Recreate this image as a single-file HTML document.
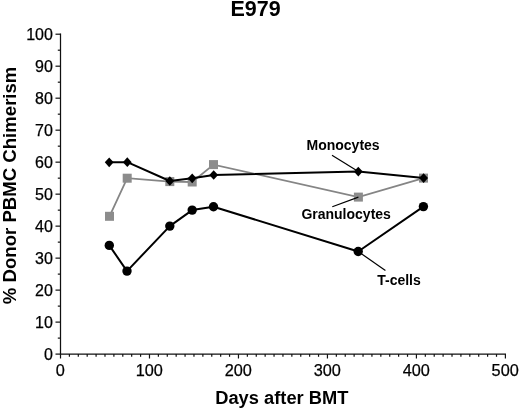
<!DOCTYPE html>
<html><head><meta charset="utf-8"><style>
html,body{margin:0;padding:0;background:#fff;}
body{width:520px;height:410px;overflow:hidden;}
svg{display:block;will-change:transform;}
text{font-family:"Liberation Sans",sans-serif;fill:#000;}
.yl{font-size:16px;fill:#000;stroke:#000;stroke-width:0.25px;}
.xl{font-size:16.3px;fill:#000;stroke:#000;stroke-width:0.25px;}
.lb{font-size:14px;font-weight:bold;}
.tt{font-size:21.5px;font-weight:bold;}
.ax{font-size:18.3px;font-weight:bold;}
.ay{font-size:18.6px;font-weight:bold;}
</style></head><body>
<svg width="520" height="410" viewBox="0 0 520 410">
<path d="M60.50 33.60 V354.10 H506.00" fill="none" stroke="#111" stroke-width="1.25"/>
<line x1="55.50" y1="354.10" x2="60.50" y2="354.10" stroke="#111" stroke-width="1.2"/>
<line x1="57.80" y1="338.11" x2="60.50" y2="338.11" stroke="#111" stroke-width="1.2"/>
<line x1="55.50" y1="322.11" x2="60.50" y2="322.11" stroke="#111" stroke-width="1.2"/>
<line x1="57.80" y1="306.12" x2="60.50" y2="306.12" stroke="#111" stroke-width="1.2"/>
<line x1="55.50" y1="290.12" x2="60.50" y2="290.12" stroke="#111" stroke-width="1.2"/>
<line x1="57.80" y1="274.12" x2="60.50" y2="274.12" stroke="#111" stroke-width="1.2"/>
<line x1="55.50" y1="258.13" x2="60.50" y2="258.13" stroke="#111" stroke-width="1.2"/>
<line x1="57.80" y1="242.14" x2="60.50" y2="242.14" stroke="#111" stroke-width="1.2"/>
<line x1="55.50" y1="226.14" x2="60.50" y2="226.14" stroke="#111" stroke-width="1.2"/>
<line x1="57.80" y1="210.15" x2="60.50" y2="210.15" stroke="#111" stroke-width="1.2"/>
<line x1="55.50" y1="194.15" x2="60.50" y2="194.15" stroke="#111" stroke-width="1.2"/>
<line x1="57.80" y1="178.16" x2="60.50" y2="178.16" stroke="#111" stroke-width="1.2"/>
<line x1="55.50" y1="162.16" x2="60.50" y2="162.16" stroke="#111" stroke-width="1.2"/>
<line x1="57.80" y1="146.17" x2="60.50" y2="146.17" stroke="#111" stroke-width="1.2"/>
<line x1="55.50" y1="130.17" x2="60.50" y2="130.17" stroke="#111" stroke-width="1.2"/>
<line x1="57.80" y1="114.18" x2="60.50" y2="114.18" stroke="#111" stroke-width="1.2"/>
<line x1="55.50" y1="98.18" x2="60.50" y2="98.18" stroke="#111" stroke-width="1.2"/>
<line x1="57.80" y1="82.19" x2="60.50" y2="82.19" stroke="#111" stroke-width="1.2"/>
<line x1="55.50" y1="66.19" x2="60.50" y2="66.19" stroke="#111" stroke-width="1.2"/>
<line x1="57.80" y1="50.20" x2="60.50" y2="50.20" stroke="#111" stroke-width="1.2"/>
<line x1="55.50" y1="34.20" x2="60.50" y2="34.20" stroke="#111" stroke-width="1.2"/>
<line x1="60.50" y1="354.10" x2="60.50" y2="358.50" stroke="#111" stroke-width="1.2"/>
<line x1="69.40" y1="354.10" x2="69.40" y2="356.80" stroke="#111" stroke-width="1.2"/>
<line x1="78.30" y1="354.10" x2="78.30" y2="356.80" stroke="#111" stroke-width="1.2"/>
<line x1="87.19" y1="354.10" x2="87.19" y2="356.80" stroke="#111" stroke-width="1.2"/>
<line x1="96.09" y1="354.10" x2="96.09" y2="356.80" stroke="#111" stroke-width="1.2"/>
<line x1="104.99" y1="354.10" x2="104.99" y2="356.80" stroke="#111" stroke-width="1.2"/>
<line x1="113.89" y1="354.10" x2="113.89" y2="356.80" stroke="#111" stroke-width="1.2"/>
<line x1="122.79" y1="354.10" x2="122.79" y2="356.80" stroke="#111" stroke-width="1.2"/>
<line x1="131.68" y1="354.10" x2="131.68" y2="356.80" stroke="#111" stroke-width="1.2"/>
<line x1="140.58" y1="354.10" x2="140.58" y2="356.80" stroke="#111" stroke-width="1.2"/>
<line x1="149.48" y1="354.10" x2="149.48" y2="358.50" stroke="#111" stroke-width="1.2"/>
<line x1="158.38" y1="354.10" x2="158.38" y2="356.80" stroke="#111" stroke-width="1.2"/>
<line x1="167.28" y1="354.10" x2="167.28" y2="356.80" stroke="#111" stroke-width="1.2"/>
<line x1="176.17" y1="354.10" x2="176.17" y2="356.80" stroke="#111" stroke-width="1.2"/>
<line x1="185.07" y1="354.10" x2="185.07" y2="356.80" stroke="#111" stroke-width="1.2"/>
<line x1="193.97" y1="354.10" x2="193.97" y2="356.80" stroke="#111" stroke-width="1.2"/>
<line x1="202.87" y1="354.10" x2="202.87" y2="356.80" stroke="#111" stroke-width="1.2"/>
<line x1="211.77" y1="354.10" x2="211.77" y2="356.80" stroke="#111" stroke-width="1.2"/>
<line x1="220.66" y1="354.10" x2="220.66" y2="356.80" stroke="#111" stroke-width="1.2"/>
<line x1="229.56" y1="354.10" x2="229.56" y2="356.80" stroke="#111" stroke-width="1.2"/>
<line x1="238.46" y1="354.10" x2="238.46" y2="358.50" stroke="#111" stroke-width="1.2"/>
<line x1="247.36" y1="354.10" x2="247.36" y2="356.80" stroke="#111" stroke-width="1.2"/>
<line x1="256.26" y1="354.10" x2="256.26" y2="356.80" stroke="#111" stroke-width="1.2"/>
<line x1="265.15" y1="354.10" x2="265.15" y2="356.80" stroke="#111" stroke-width="1.2"/>
<line x1="274.05" y1="354.10" x2="274.05" y2="356.80" stroke="#111" stroke-width="1.2"/>
<line x1="282.95" y1="354.10" x2="282.95" y2="356.80" stroke="#111" stroke-width="1.2"/>
<line x1="291.85" y1="354.10" x2="291.85" y2="356.80" stroke="#111" stroke-width="1.2"/>
<line x1="300.75" y1="354.10" x2="300.75" y2="356.80" stroke="#111" stroke-width="1.2"/>
<line x1="309.64" y1="354.10" x2="309.64" y2="356.80" stroke="#111" stroke-width="1.2"/>
<line x1="318.54" y1="354.10" x2="318.54" y2="356.80" stroke="#111" stroke-width="1.2"/>
<line x1="327.44" y1="354.10" x2="327.44" y2="358.50" stroke="#111" stroke-width="1.2"/>
<line x1="336.34" y1="354.10" x2="336.34" y2="356.80" stroke="#111" stroke-width="1.2"/>
<line x1="345.24" y1="354.10" x2="345.24" y2="356.80" stroke="#111" stroke-width="1.2"/>
<line x1="354.13" y1="354.10" x2="354.13" y2="356.80" stroke="#111" stroke-width="1.2"/>
<line x1="363.03" y1="354.10" x2="363.03" y2="356.80" stroke="#111" stroke-width="1.2"/>
<line x1="371.93" y1="354.10" x2="371.93" y2="356.80" stroke="#111" stroke-width="1.2"/>
<line x1="380.83" y1="354.10" x2="380.83" y2="356.80" stroke="#111" stroke-width="1.2"/>
<line x1="389.73" y1="354.10" x2="389.73" y2="356.80" stroke="#111" stroke-width="1.2"/>
<line x1="398.62" y1="354.10" x2="398.62" y2="356.80" stroke="#111" stroke-width="1.2"/>
<line x1="407.52" y1="354.10" x2="407.52" y2="356.80" stroke="#111" stroke-width="1.2"/>
<line x1="416.42" y1="354.10" x2="416.42" y2="358.50" stroke="#111" stroke-width="1.2"/>
<line x1="425.32" y1="354.10" x2="425.32" y2="356.80" stroke="#111" stroke-width="1.2"/>
<line x1="434.22" y1="354.10" x2="434.22" y2="356.80" stroke="#111" stroke-width="1.2"/>
<line x1="443.11" y1="354.10" x2="443.11" y2="356.80" stroke="#111" stroke-width="1.2"/>
<line x1="452.01" y1="354.10" x2="452.01" y2="356.80" stroke="#111" stroke-width="1.2"/>
<line x1="460.91" y1="354.10" x2="460.91" y2="356.80" stroke="#111" stroke-width="1.2"/>
<line x1="469.81" y1="354.10" x2="469.81" y2="356.80" stroke="#111" stroke-width="1.2"/>
<line x1="478.71" y1="354.10" x2="478.71" y2="356.80" stroke="#111" stroke-width="1.2"/>
<line x1="487.60" y1="354.10" x2="487.60" y2="356.80" stroke="#111" stroke-width="1.2"/>
<line x1="496.50" y1="354.10" x2="496.50" y2="356.80" stroke="#111" stroke-width="1.2"/>
<line x1="505.40" y1="354.10" x2="505.40" y2="358.50" stroke="#111" stroke-width="1.2"/>
<text x="52.9" y="359.70" text-anchor="end" class="yl">0</text>
<text x="52.9" y="327.71" text-anchor="end" class="yl">10</text>
<text x="52.9" y="295.72" text-anchor="end" class="yl">20</text>
<text x="52.9" y="263.73" text-anchor="end" class="yl">30</text>
<text x="52.9" y="231.74" text-anchor="end" class="yl">40</text>
<text x="52.9" y="199.75" text-anchor="end" class="yl">50</text>
<text x="52.9" y="167.76" text-anchor="end" class="yl">60</text>
<text x="52.9" y="135.77" text-anchor="end" class="yl">70</text>
<text x="52.9" y="103.78" text-anchor="end" class="yl">80</text>
<text x="52.9" y="71.79" text-anchor="end" class="yl">90</text>
<text x="52.9" y="39.80" text-anchor="end" class="yl">100</text>
<text x="60.30" y="376.0" text-anchor="middle" class="xl">0</text>
<text x="149.28" y="376.0" text-anchor="middle" class="xl">100</text>
<text x="238.26" y="376.0" text-anchor="middle" class="xl">200</text>
<text x="327.24" y="376.0" text-anchor="middle" class="xl">300</text>
<text x="416.22" y="376.0" text-anchor="middle" class="xl">400</text>
<text x="505.20" y="376.0" text-anchor="middle" class="xl">500</text>
<polyline points="109.50,216.30 127.20,178.20 169.80,181.60 192.20,182.00 213.50,164.60 358.40,197.10 423.50,178.10" fill="none" stroke="#858585" stroke-width="1.8"/>
<rect x="105.00" y="211.80" width="9.0" height="9.0" fill="#8c8c8c"/>
<rect x="122.70" y="173.70" width="9.0" height="9.0" fill="#8c8c8c"/>
<rect x="165.30" y="177.10" width="9.0" height="9.0" fill="#8c8c8c"/>
<rect x="187.70" y="177.50" width="9.0" height="9.0" fill="#8c8c8c"/>
<rect x="209.00" y="160.10" width="9.0" height="9.0" fill="#8c8c8c"/>
<rect x="353.90" y="192.60" width="9.0" height="9.0" fill="#8c8c8c"/>
<rect x="419.00" y="173.60" width="9.0" height="9.0" fill="#8c8c8c"/>
<polyline points="109.30,245.40 127.00,271.10 169.80,226.10 192.20,210.10 213.50,206.70 358.20,251.50 423.40,206.60" fill="none" stroke="#000" stroke-width="2.0" stroke-linejoin="round"/>
<circle cx="109.30" cy="245.40" r="4.7" fill="#000"/>
<circle cx="127.00" cy="271.10" r="4.7" fill="#000"/>
<circle cx="169.80" cy="226.10" r="4.7" fill="#000"/>
<circle cx="192.20" cy="210.10" r="4.7" fill="#000"/>
<circle cx="213.50" cy="206.70" r="4.7" fill="#000"/>
<circle cx="358.20" cy="251.50" r="4.7" fill="#000"/>
<circle cx="423.40" cy="206.60" r="4.7" fill="#000"/>
<polyline points="109.20,162.30 127.30,162.20 169.80,181.00 192.20,178.30 213.70,175.00 358.30,171.60 423.60,178.10" fill="none" stroke="#000" stroke-width="2.0" stroke-linejoin="round"/>
<path d="M104.80 162.30 L109.20 157.45 L113.60 162.30 L109.20 167.15 Z" fill="#000"/>
<path d="M122.90 162.20 L127.30 157.35 L131.70 162.20 L127.30 167.05 Z" fill="#000"/>
<path d="M165.40 181.00 L169.80 176.15 L174.20 181.00 L169.80 185.85 Z" fill="#000"/>
<path d="M187.80 178.30 L192.20 173.45 L196.60 178.30 L192.20 183.15 Z" fill="#000"/>
<path d="M209.30 175.00 L213.70 170.15 L218.10 175.00 L213.70 179.85 Z" fill="#000"/>
<path d="M353.90 171.60 L358.30 166.75 L362.70 171.60 L358.30 176.45 Z" fill="#000"/>
<path d="M419.20 178.10 L423.60 173.25 L428.00 178.10 L423.60 182.95 Z" fill="#000"/>
<line x1="332" y1="155.3" x2="358.3" y2="171.6" stroke="#000" stroke-width="1.2"/>
<line x1="332.3" y1="206.8" x2="358.4" y2="197.1" stroke="#000" stroke-width="1.2"/>
<line x1="358.2" y1="251.5" x2="385.4" y2="270.5" stroke="#000" stroke-width="1.2"/>
<text x="306.5" y="149.8" class="lb">Monocytes</text>
<text x="301.4" y="219.3" class="lb">Granulocytes</text>
<text x="377.2" y="284.8" class="lb">T-cells</text>
<text x="255.5" y="16.2" text-anchor="middle" class="tt">E979</text>
<text x="281.8" y="404.3" text-anchor="middle" class="ax">Days after BMT</text>
<text transform="translate(15.8 185.4) rotate(-90)" text-anchor="middle" class="ay">% Donor PBMC Chimerism</text>
</svg>
</body></html>
